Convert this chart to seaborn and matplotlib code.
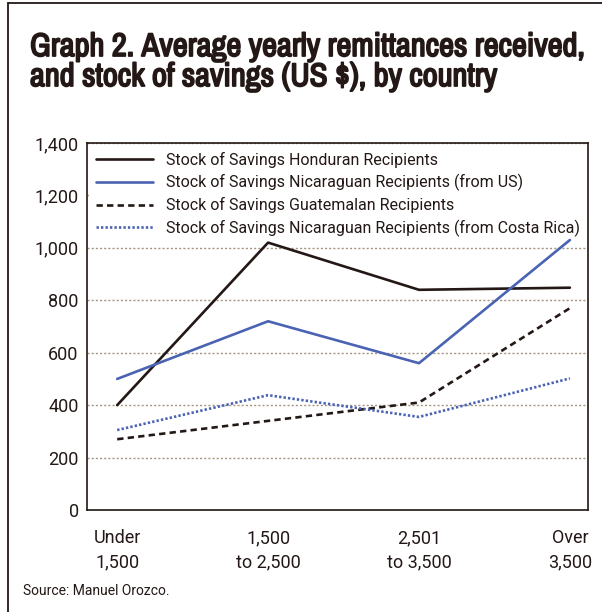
import numpy as np
import pandas as pd
import seaborn as sns
import matplotlib.pyplot as plt
from matplotlib import font_manager as fm
from matplotlib import patheffects as pe
from matplotlib.lines import Line2D

# income brackets (x axis)
brackets = ["Under\n1,500", "1,500\nto 2,500", "2,501\nto 3,500", "Over\n3,500"]

# stock of savings (US $)
honduran = [400, 1020, 840, 848]
nicaraguan_us = [500, 720, 560, 1030]
guatemalan = [270, 340, 410, 770]
nicaraguan_cr = [305, 438, 355, 502]

labels = ["Stock of Savings Honduran Recipients",
          "Stock of Savings Nicaraguan Recipients (from US)",
          "Stock of Savings Guatemalan Recipients",
          "Stock of Savings Nicaraguan Recipients (from Costa Rica)"]

y_ticks = [0, 200, 400, 600, 800, 1000, 1200, 1400]

dark = "#231815"
blue = "#4a63b3"
grid_col = "#a59580"

# narrow face for the title (bold look is added with a stroke)
narrow = None
for f in fm.fontManager.ttflist:
    if "Narrow" in f.name or "Condensed" in f.name:
        narrow = f.name
        break

sns.set_style("white")
plt.rcParams["font.family"] = ["Roboto", "DejaVu Sans"]
plt.rcParams["text.color"] = dark

fig = plt.figure(figsize=(6.02, 6.12), dpi=100)
ax = fig.add_axes([87/602, 1-510/612, (588-87)/602, (510-143)/612])

xpos = np.arange(len(brackets))
series = [honduran, nicaraguan_us, guatemalan, nicaraguan_cr]
colors = [dark, blue, dark, blue]
styles = ["-", "-", (0, (2.4, 1.6)), (0, (0.9, 0.8))]
for vals, lab, c, ls in zip(series, labels, colors, styles):
    sns.lineplot(x=xpos, y=vals, color=c, linestyle=ls, linewidth=1.9,
                 label=lab, ax=ax, zorder=6)

ax.set_xlim(-0.2, 3.12)
ax.set_ylim(0, 1400)
ax.set_xticks(xpos)
ax.set_xticklabels(brackets, fontsize=13, linespacing=1.4)
ax.set_yticks(y_ticks)
ax.set_yticklabels([f"{v:,}" for v in y_ticks], fontsize=13)
ax.tick_params(axis="both", length=0, colors=dark)
ax.tick_params(axis="y", pad=6)
ax.tick_params(axis="x", pad=14)
ax.set_xlabel("")
ax.set_ylabel("")
ax.yaxis.grid(True, color=grid_col, linestyle=(0, (1.5, 1.5)), linewidth=1.0)
ax.set_axisbelow(True)
for sp in ax.spines.values():
    sp.set_color(dark)
    sp.set_linewidth(1.2)

leg = ax.legend(loc="upper left", bbox_to_anchor=(0, 1, 1, 0), mode="expand",
                frameon=True, facecolor="white", edgecolor="none", framealpha=1,
                fancybox=False, fontsize=11.5, handlelength=3.6,
                handletextpad=0.8, labelspacing=0.38, borderpad=0.45,
                borderaxespad=0.1)
leg.set_zorder(5)
for t in leg.get_texts():
    t.set_color(dark)

title_kw = dict(fontsize=23.5)
if narrow is not None:
    title_kw.update(family=[narrow, "DejaVu Sans"],
                    path_effects=[pe.withStroke(linewidth=1.3, foreground=dark)])
else:
    title_kw.update(fontsize=17, fontweight="bold")
fig.text(30/602, 1-32/612,
         "Graph 2. Average yearly remittances received,\nand stock of savings (US $), by country",
         ha="left", va="top", linespacing=1.0, color=dark, **title_kw)
fig.text(23/602, 1-591/612, "Source: Manuel Orozco.", ha="left", va="center",
         fontsize=10, color=dark)

# outer frame (left and top edges)
fig.add_artist(Line2D([8/602, 8/602], [0, 1-3/612], transform=fig.transFigure,
                      color=dark, linewidth=1.3))
fig.add_artist(Line2D([8/602, 1], [1-3/612, 1-3/612], transform=fig.transFigure,
                      color=dark, linewidth=1.3))

fig.savefig("out.png", dpi=100)
